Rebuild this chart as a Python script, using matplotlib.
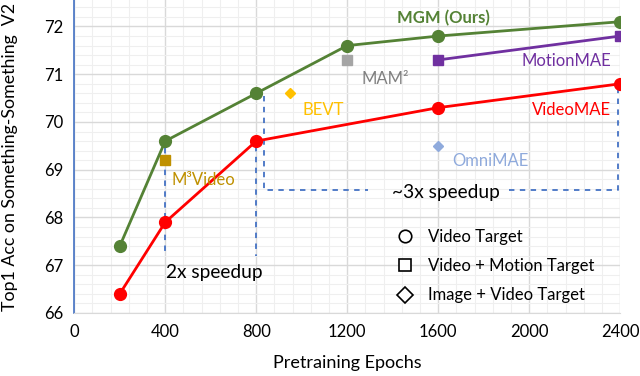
import matplotlib
matplotlib.use("Agg")
import matplotlib.pyplot as plt
from matplotlib.lines import Line2D
from matplotlib.ticker import MultipleLocator

plt.rcParams['font.family'] = ['Lato', 'DejaVu Sans']

# данные
mgm_epochs = [200, 400, 800, 1200, 1600, 2400]
mgm_acc = [67.4, 69.6, 70.6, 71.6, 71.8, 72.1]
videomae_epochs = [200, 400, 800, 1600, 2400]
videomae_acc = [66.4, 67.9, 69.6, 70.3, 70.8]
motionmae_epochs = [1600, 2400]
motionmae_acc = [71.3, 71.8]
mam2_point = (1200, 71.3)
bevt_point = (950, 70.6)
m3video_point = (400, 69.2)
omnimae_point = (1600, 69.5)

green = '#548235'
red = '#FF0000'
purple = '#7030A0'
blue = '#4472C4'

fig = plt.figure(figsize=(6.4, 3.76), dpi=100)
ax = fig.add_axes([0.116, 0.1676, 0.853, 0.8324])

# сетка
ax.set_xlim(0, 2400)
ax.set_ylim(66, 72.555)
ax.xaxis.set_major_locator(MultipleLocator(400))
ax.xaxis.set_minor_locator(MultipleLocator(80))
ax.yaxis.set_major_locator(MultipleLocator(1))
ax.yaxis.set_minor_locator(MultipleLocator(0.2))
ax.grid(which='major', color='#D9D9D9', lw=1.0)
ax.grid(which='minor', color='#EFEFEF', lw=0.8)
ax.set_axisbelow(True)
ax.tick_params(which='both', length=0, labelsize=12, pad=8)
for s in ['top', 'right']:
    ax.spines[s].set_visible(False)
ax.spines['left'].set_color(blue)
ax.spines['left'].set_linewidth(1.2)
ax.spines['bottom'].set_color('#D9D9D9')

# пунктирные линии ускорения
dash = dict(color=blue, lw=1.3, ls=(0, (3, 3)), zorder=1)
ax.plot([400, 400], [69.45, 67.2], **dash)
ax.plot([800, 800], [69.5, 67.2], **dash)
ax.plot([835, 835, 1290], [70.55, 68.57, 68.57], **dash)
ax.plot([1910, 2390, 2390], [68.57, 68.57, 70.75], **dash)

# линии
ax.plot(mgm_epochs, mgm_acc, color=green, lw=2, marker='o', ms=8.5, zorder=3)
ax.plot(videomae_epochs, videomae_acc, color=red, lw=2, marker='o', ms=8.5, zorder=3)
ax.plot(motionmae_epochs, motionmae_acc, color=purple, lw=2, marker='s', ms=7.5, zorder=3)
ax.plot(*mam2_point, marker='s', color='#A5A5A5', ms=7.5, zorder=3)
ax.plot(*bevt_point, marker='D', color='#FFC000', ms=5.5, zorder=3)
ax.plot(*m3video_point, marker='s', color='#BF9000', ms=7.5, zorder=2)
ax.plot(*omnimae_point, marker='D', color='#8FAADC', ms=5.5, zorder=3)

# подписи
ax.text(1622, 72.17, 'MGM (Ours)', color=green, fontsize=12, fontweight='bold',
        ha='center', va='center')
ax.text(2360, 71.27, 'MotionMAE', color=purple, fontsize=12, ha='right', va='center')
ax.text(1263, 70.9, 'MAM²', color='#808080', fontsize=12, ha='left', va='center')
ax.text(2360, 70.25, 'VideoMAE', color=red, fontsize=12, ha='right', va='center')
ax.text(1662, 69.18, 'OmniMAE', color='#8FAADC', fontsize=12, ha='left', va='center')
ax.text(1002, 70.26, 'BEVT', color='#FFC000', fontsize=12, ha='left', va='center')
ax.text(427, 68.78, 'M³Video', color='#BF9000', fontsize=12, ha='left', va='center')
ax.text(405, 66.85, '2x speedup', color='black', fontsize=13.8, ha='left', va='center')
ax.text(1635, 68.52, '~3x speedup', color='black', fontsize=13.8, ha='center', va='center')

ax.set_xlabel('Pretraining Epochs', fontsize=13)
ax.xaxis.set_label_coords(0.5, -0.135)
ax.set_ylabel('Top1 Acc on Something-Something  V2', fontsize=12.8)
ax.yaxis.set_label_coords(-0.103, 0.5)

# легенда
handles = [
    Line2D([], [], ls='none', marker='o', mfc='white', mec='black', ms=9, mew=1.2),
    Line2D([], [], ls='none', marker='s', mfc='white', mec='black', ms=9, mew=1.2),
    Line2D([], [], ls='none', marker='D', mfc='white', mec='black', ms=8, mew=1.2),
]
labels = ['Video Target', 'Video + Motion Target', 'Image + Video Target']
ax.legend(handles, labels, loc='center left', bbox_to_anchor=(0.591, 0.15),
          frameon=False, fontsize=12, borderaxespad=0, borderpad=0,
          handlelength=1.0, handletextpad=0.85, labelspacing=0.8)

fig.savefig('out.png', dpi=100)
